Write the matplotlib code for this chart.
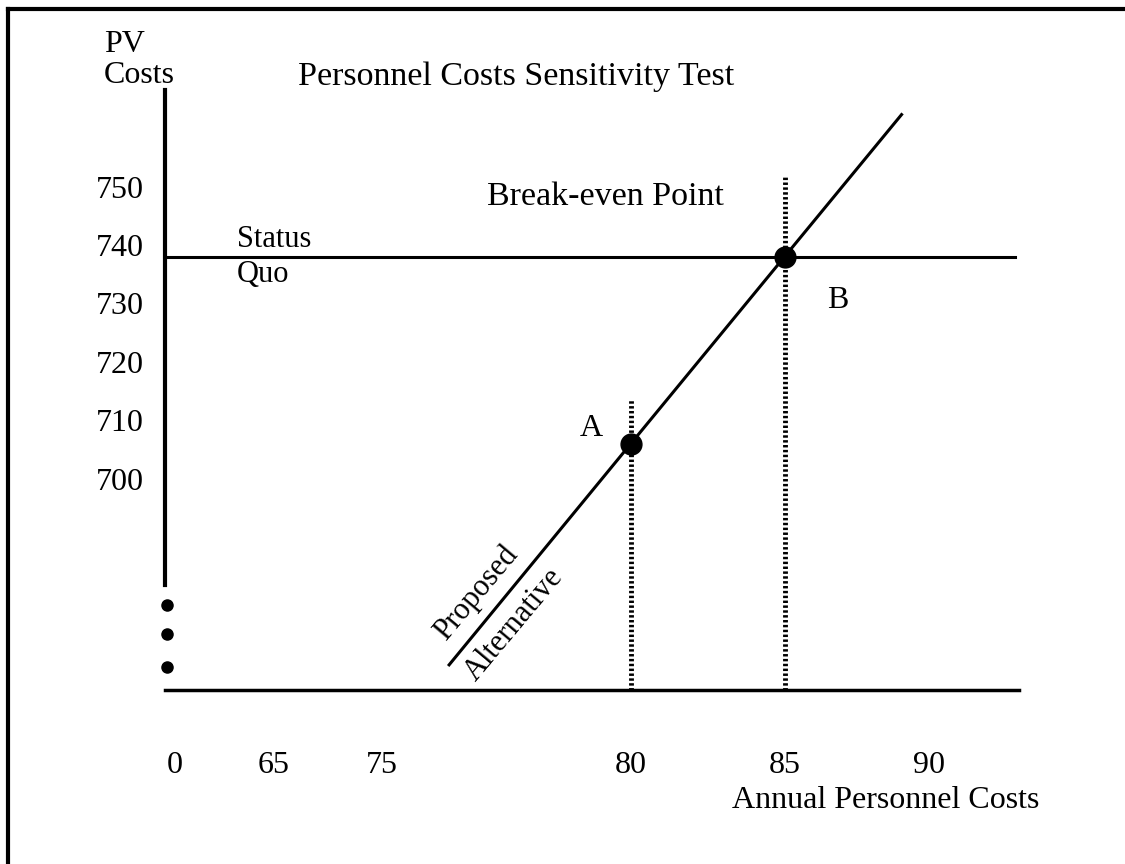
import matplotlib
matplotlib.use('Agg')
import matplotlib.pyplot as plt
from matplotlib.lines import Line2D

plt.rcParams['font.family'] = ['Liberation Serif', 'DejaVu Serif']

# PV cost axis ticks
pv_ticks = [700, 710, 720, 730, 740, 750]
# annual personnel cost labels and where they sit on the (broken) cost axis
cost_labels = ['0', '65', '75', '80', '85', '90']
cost_tick_pos = [65.2, 68.4, 71.9, 80, 85, 89.7]

status_quo = 738
point_a = (80, 706)
point_b = (85, 738)
alt_x = [74.1, 80, 85, 88.8]
alt_y = [668.2, 706, 738, 762.3]
alt_label_at = (75.6, 677.8)
break_x = [80, 85]
break_top = [713.5, 752]
gap_dots_y = [678.5, 673.4, 667.8]

xlim = (64.87, 93.3)
ylim = (663.9, 766.5)

fig = plt.figure(figsize=(11.25, 8.64), dpi=100)
ax = fig.add_axes([0.1467, 0.2014, 0.7778, 0.6944])
ax.set_xlim(*xlim)
ax.set_ylim(*ylim)

for s in ['top', 'right']:
    ax.spines[s].set_visible(False)
ax.spines['left'].set_linewidth(3)
ax.spines['left'].set_bounds(681.9, ylim[1])
ax.spines['bottom'].set_linewidth(2.5)
ax.spines['bottom'].set_bounds(xlim[0], 92.6)

ax.set_yticks(pv_ticks)
ax.set_yticklabels([str(v) for v in pv_ticks])
ax.set_xticks(cost_tick_pos)
ax.set_xticklabels(cost_labels)
ax.tick_params(axis='both', length=0, labelsize=23)
ax.tick_params(axis='x', pad=44)
for lab in ax.get_yticklabels():
    lab.set_horizontalalignment('left')
    lab.set_x(-0.074)

# dots marking the broken PV axis
ax.plot([xlim[0] + 0.07] * len(gap_dots_y), gap_dots_y, 'o', color='black',
        ms=8, clip_on=False)

# status quo line
ax.plot([xlim[0], 92.5], [status_quo, status_quo], color='black', lw=2.2)

# break-even verticals
for bx, bt in zip(break_x, break_top):
    ax.plot([bx, bx], [ylim[0], bt], color='black', lw=3.5, dashes=(0.5, 0.5))

# proposed alternative line
ax.plot(alt_x, alt_y, color='black', lw=2.2)
ax.plot([point_a[0], point_b[0]], [point_a[1], point_b[1]], 'o', color='black', ms=15)

ax.text(point_a[0] - 1.27, point_a[1] + 2.7, 'A', fontsize=23, ha='center', va='center')
ax.text(point_b[0] + 1.72, point_b[1] - 7.5, 'B', fontsize=23, ha='center', va='center')
ax.text(79.19, 748.2, 'Break-even Point', fontsize=24.5, ha='center', va='center')
ax.text(67.2, 740.9, 'Status', fontsize=22, ha='left', va='center')
ax.text(67.2, 734.9, 'Quo', fontsize=22, ha='left', va='center')

# labels running along the line, one each side
ax.annotate('Proposed', xy=alt_label_at, xytext=(-13.5, 11.3),
            textcoords='offset points', fontsize=22, ha='center', va='center',
            rotation=50, rotation_mode='anchor')
ax.annotate('Alternative', xy=alt_label_at, xytext=(13.5, -11.3),
            textcoords='offset points', fontsize=22, ha='center', va='center',
            rotation=50, rotation_mode='anchor')

fig.text(0.0924, 0.948, 'PV', fontsize=23, ha='left', va='center')
fig.text(0.0924, 0.913, 'Costs', fontsize=23, ha='left', va='center')
fig.text(0.265, 0.911, 'Personnel Costs Sensitivity Test', fontsize=24.5,
         ha='left', va='center')
fig.text(0.787, 0.074, 'Annual Personnel Costs', fontsize=23,
         ha='center', va='center')

# page frame
fig.add_artist(Line2D([0.007, 0.007], [0.0, 0.99], color='black', lw=3))
fig.add_artist(Line2D([0.007, 1.0], [0.99, 0.99], color='black', lw=3))

fig.savefig('out.png', dpi=100)
